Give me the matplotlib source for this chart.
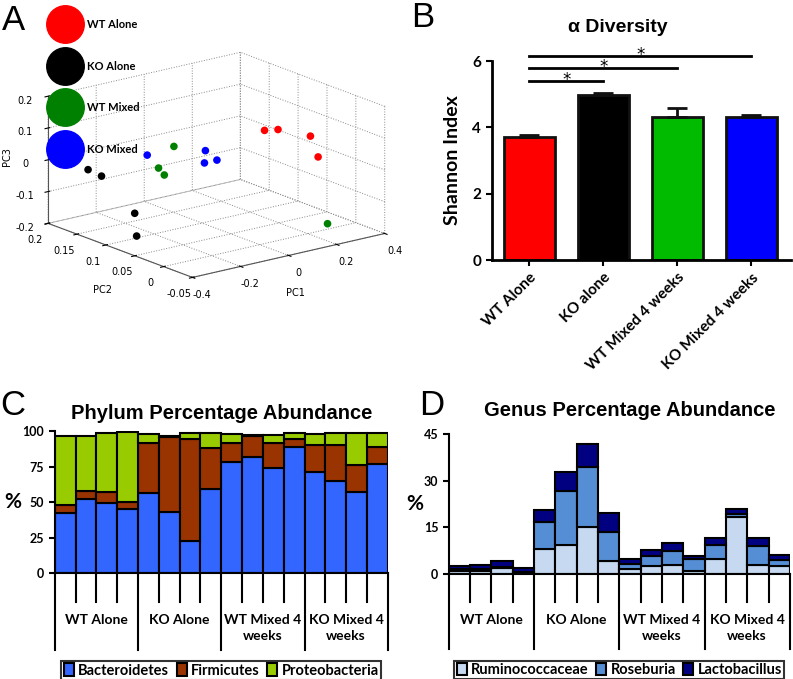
import numpy as np
import matplotlib.pyplot as plt
from matplotlib.lines import Line2D
import matplotlib.transforms as mtransforms

# ---- Panel A: PCoA coordinates (PC1, PC2, PC3) ----
wt_alone_pc1 = [0.044, 0.10, 0.235, 0.267]
wt_alone_pc2 = [0.01, 0.01, 0.01, 0.01]
wt_alone_pc3 = [0.145, 0.138, 0.094, 0.023]
ko_alone_pc1 = [-0.354, -0.298, -0.28, -0.272]
ko_alone_pc2 = [0.15, 0.15, 0.10, 0.10]
ko_alone_pc3 = [-0.005, -0.035, -0.121, -0.194]
wt_mixed_pc1 = [-0.189, -0.253, -0.229, 0.21]
wt_mixed_pc2 = [0.07, 0.07, 0.07, -0.03]
wt_mixed_pc3 = [0.094, 0.037, 0.011, -0.15]
ko_mixed_pc1 = [-0.228, -0.106, -0.11, -0.058]
ko_mixed_pc2 = [0.10, 0.05, 0.05, 0.05]
ko_mixed_pc3 = [0.053, 0.08, 0.042, 0.042]
a_groups = ['WT Alone', 'KO Alone', 'WT Mixed', 'KO Mixed']
a_colors = ['#ff0000', '#000000', '#008000', '#0000ff']

# ---- Panel B: alpha diversity ----
b_groups = ['WT Alone', 'KO alone', 'WT Mixed 4 weeks', 'KO Mixed 4 weeks']
shannon_mean = [3.72, 4.97, 4.32, 4.30]
shannon_sem = [0.05, 0.07, 0.26, 0.07]
b_colors = ['#ff0000', '#000000', '#00bb00', '#0000ff']

# ---- Panel C: phylum abundance (%) per mouse ----
bacteroidetes = [42.0, 52.3, 49.5, 44.8, 56.1, 42.7, 22.8, 58.9,
                 78.4, 81.9, 74.2, 89.0, 71.4, 64.6, 57.3, 77.2]
firmicutes = [5.9, 5.7, 7.8, 5.4, 35.7, 53.3, 71.6, 28.9,
              13.6, 14.6, 17.8, 5.4, 19.2, 26.0, 18.7, 11.8]
proteobacteria = [48.8, 38.7, 41.7, 49.3, 6.1, 0.7, 4.4, 11.2,
                  5.9, 0.7, 5.4, 4.6, 7.3, 8.2, 22.4, 9.8]

# ---- Panel D: genus abundance (%) per mouse ----
ruminococcaceae = [0.75, 0.8, 1.8, 0.3, 7.9, 9.3, 14.9, 4.2,
                   1.5, 2.6, 2.8, 0.75, 4.7, 18.4, 2.7, 2.4]
roseburia = [0.75, 0.7, 0.3, 0.2, 8.8, 17.2, 19.4, 9.1,
             1.7, 3.0, 4.6, 4.05, 4.6, 0.9, 6.1, 1.9]
lactobacillus = [1.1, 1.4, 1.9, 1.5, 3.7, 6.1, 7.4, 6.2,
                 1.6, 1.9, 2.5, 1.0, 2.3, 1.5, 2.7, 1.6]

cd_groups = ['WT Alone', 'KO Alone', 'WT Mixed 4\nweeks', 'KO Mixed 4\nweeks']

CAL = ['Lato', 'DejaVu Sans']
ARIAL = ['Liberation Sans', 'DejaVu Sans']

fig = plt.figure(figsize=(7.93, 6.79), dpi=100)

# ================= Panel A =================
axA = fig.add_axes([0.0076, 0.521, 0.52, 0.46], projection='3d', proj_type='ortho')
pc_sets = [(wt_alone_pc1, wt_alone_pc2, wt_alone_pc3),
           (ko_alone_pc1, ko_alone_pc2, ko_alone_pc3),
           (wt_mixed_pc1, wt_mixed_pc2, wt_mixed_pc3),
           (ko_mixed_pc1, ko_mixed_pc2, ko_mixed_pc3)]
for (p1, p2, p3), c in zip(pc_sets, a_colors):
    axA.scatter(p1, p2, p3, color=c, s=30, depthshade=False, edgecolors='none')
axA.set_xlim(-0.4, 0.4)
axA.set_ylim(-0.05, 0.2)
axA.set_zlim(-0.2, 0.2)
axA.set_xticks([-0.4, -0.2, 0, 0.2, 0.4])
axA.set_xticklabels(['-0.4', '-0.2', '0', '0.2', '0.4'])
axA.set_yticks([-0.05, 0, 0.05, 0.1, 0.15, 0.2])
axA.set_yticklabels(['-0.05', '0', '0.05', '0.1', '0.15', '0.2'])
axA.set_zticks([-0.2, -0.1, 0, 0.1, 0.2])
axA.set_zticklabels(['-0.2', '-0.1', '0', '0.1', '0.2'])
axA.view_init(elev=17, azim=-128)
axA.set_box_aspect((1.04, 1, 0.567), zoom=1.13)
for axis in (axA.xaxis, axA.yaxis, axA.zaxis):
    axis.set_pane_color((1, 1, 1, 0))
    axis.pane.set_edgecolor((1, 1, 1, 0))
    axis._axinfo['grid'].update({'linestyle': ':', 'color': '#888888', 'linewidth': 0.7})
    axis.line.set_color('#555555')
    axis.line.set_linewidth(0.8)
    axis.set_tick_params(labelsize=7, pad=0)
fig.text(295 / 793, 1 - 293 / 679, 'PC1', fontsize=7, ha='center', va='center')
fig.text(102 / 793, 1 - 290 / 679, 'PC2', fontsize=7, ha='center', va='center')
fig.text(7 / 793, 1 - 157 / 679, 'PC3', fontsize=7, ha='center', va='center', rotation=90)

legA = [Line2D([], [], marker='o', linestyle='none', markersize=27,
               markerfacecolor=c, markeredgecolor=c, label=g)
        for g, c in zip(a_groups, a_colors)]
fig.legend(handles=legA, loc='upper left', bbox_to_anchor=(0.068, 0.972),
           frameon=False, labelspacing=2.75, handlelength=2, handletextpad=1.0,
           borderpad=0, borderaxespad=0,
           prop={'family': CAL, 'weight': 'bold', 'size': 8})

# ================= Panel B =================
axB = fig.add_axes([0.620, 0.617, 0.378, 0.293])
xb = np.arange(len(b_groups))
axB.bar(xb, shannon_mean, width=0.68, color=b_colors, edgecolor='#111111', linewidth=2)
axB.errorbar(xb, shannon_mean, yerr=[np.zeros(4), shannon_sem], fmt='none',
             ecolor='#111111', elinewidth=2, capsize=7, capthick=2)
axB.set_xlim(-0.51, 3.54)
axB.set_ylim(0, 6)
axB.set_yticks([0, 2, 4, 6])
axB.spines['top'].set_visible(False)
axB.spines['right'].set_visible(False)
axB.spines['left'].set_linewidth(2)
axB.spines['bottom'].set_linewidth(2)
axB.tick_params(axis='both', width=1.5, length=4)
axB.set_xticks(xb)
axB.set_xticklabels(b_groups, rotation=45, ha='right', rotation_mode='anchor',
                    family=CAL, weight='bold', fontsize=11)
for lab in axB.get_yticklabels():
    lab.set_family(CAL)
    lab.set_weight('bold')
    lab.set_fontsize(11)
axB.set_ylabel('Shannon Index', family=CAL, weight='bold', fontsize=14, labelpad=8)
fig.text(618 / 793, 1 - 27 / 679, 'α Diversity', family=ARIAL, weight='bold',
         fontsize=14, ha='center', va='center')
sig_pairs = [(0, 1, 5.4), (0, 2, 5.8), (0, 3, 6.15)]
for i, j, h in sig_pairs:
    axB.plot([xb[i], xb[j]], [h, h], color='black', linewidth=2, clip_on=False)
    axB.text((xb[i] + xb[j]) / 2, h - 0.24, '*', ha='center', va='bottom',
             fontsize=12, clip_on=False)


def category_axis(ax, n):
    trans = mtransforms.blended_transform_factory(ax.transData, ax.transAxes)
    for k in range(n + 1):
        xk = k - 0.5
        depth = -0.54 if k % 4 == 0 else -0.204
        ax.plot([xk, xk], [0, depth], color='black', linewidth=1.5,
                transform=trans, clip_on=False)
    for g, lab in enumerate(cd_groups):
        ax.text(g * 4 + 1.5, -0.289, lab, transform=trans, ha='center', va='top',
                family=CAL, weight='bold', fontsize=10, linespacing=1.4)


def style_stack_axes(ax, pct_x):
    ax.set_xlim(-0.5, 15.5)
    ax.set_xticks([])
    ax.spines['top'].set_visible(False)
    ax.spines['right'].set_visible(False)
    ax.spines['left'].set_linewidth(1.5)
    ax.spines['bottom'].set_linewidth(1.5)
    ax.tick_params(axis='y', width=1.5, length=4)
    for lab in ax.get_yticklabels():
        lab.set_family(CAL)
        lab.set_weight('bold')
        lab.set_fontsize(9)
    ax.text(pct_x, 0.5, '%', transform=ax.transAxes, ha='center', va='center',
            family=CAL, weight='bold', fontsize=15)


def stack_legend(ax):
    leg = ax.legend(loc='upper center', bbox_to_anchor=(0.5, -0.57), ncol=3, frameon=True,
                    fancybox=False, edgecolor='black', handlelength=0.7, handleheight=0.9,
                    handletextpad=0.3, columnspacing=0.5, borderpad=0.15,
                    prop={'family': CAL, 'weight': 'bold', 'size': 10.5})
    leg.get_frame().set_linewidth(1.5)


# ================= Panel C =================
axC = fig.add_axes([0.069, 0.156, 0.420, 0.209])
xc = np.arange(16)
bac = np.array(bacteroidetes)
fir = np.array(firmicutes)
pro = np.array(proteobacteria)
axC.bar(xc, bac, width=1, color='#3366ff', edgecolor='black', linewidth=1.5, label='Bacteroidetes')
axC.bar(xc, fir, bottom=bac, width=1, color='#993300', edgecolor='black', linewidth=1.5, label='Firmicutes')
axC.bar(xc, pro, bottom=bac + fir, width=1, color='#99cc00', edgecolor='black', linewidth=1.5, label='Proteobacteria')
axC.set_ylim(0, 100)
axC.set_yticks([0, 25, 50, 75, 100])
style_stack_axes(axC, -0.126)
category_axis(axC, 16)
axC.set_title('Phylum Percentage Abundance', family=ARIAL, weight='bold', fontsize=14.5, pad=9)
stack_legend(axC)

# ================= Panel D =================
axD = fig.add_axes([0.566, 0.155, 0.430, 0.206])
rum = np.array(ruminococcaceae)
ros = np.array(roseburia)
lac = np.array(lactobacillus)
axD.bar(xc, rum, width=1, color='#c6d9f1', edgecolor='black', linewidth=1.5, label='Ruminococcaceae')
axD.bar(xc, ros, bottom=rum, width=1, color='#558ed5', edgecolor='black', linewidth=1.5, label='Roseburia')
axD.bar(xc, lac, bottom=rum + ros, width=1, color='#000080', edgecolor='black', linewidth=1.5, label='Lactobacillus')
axD.set_ylim(0, 45)
axD.set_yticks([0, 15, 30, 45])
style_stack_axes(axD, -0.1)
category_axis(axD, 16)
axD.set_title('Genus Percentage Abundance', family=ARIAL, weight='bold', fontsize=14.5,
              x=0.53, pad=13)
stack_legend(axD)

# panel letters
for letter, x, y in [('A', 0.003, 0.994), ('B', 0.518, 0.998), ('C', 0.0, 0.427), ('D', 0.528, 0.427)]:
    fig.text(x, y, letter, family=ARIAL, fontsize=25, va='top', ha='left')

fig.savefig('out.png', dpi=100)
